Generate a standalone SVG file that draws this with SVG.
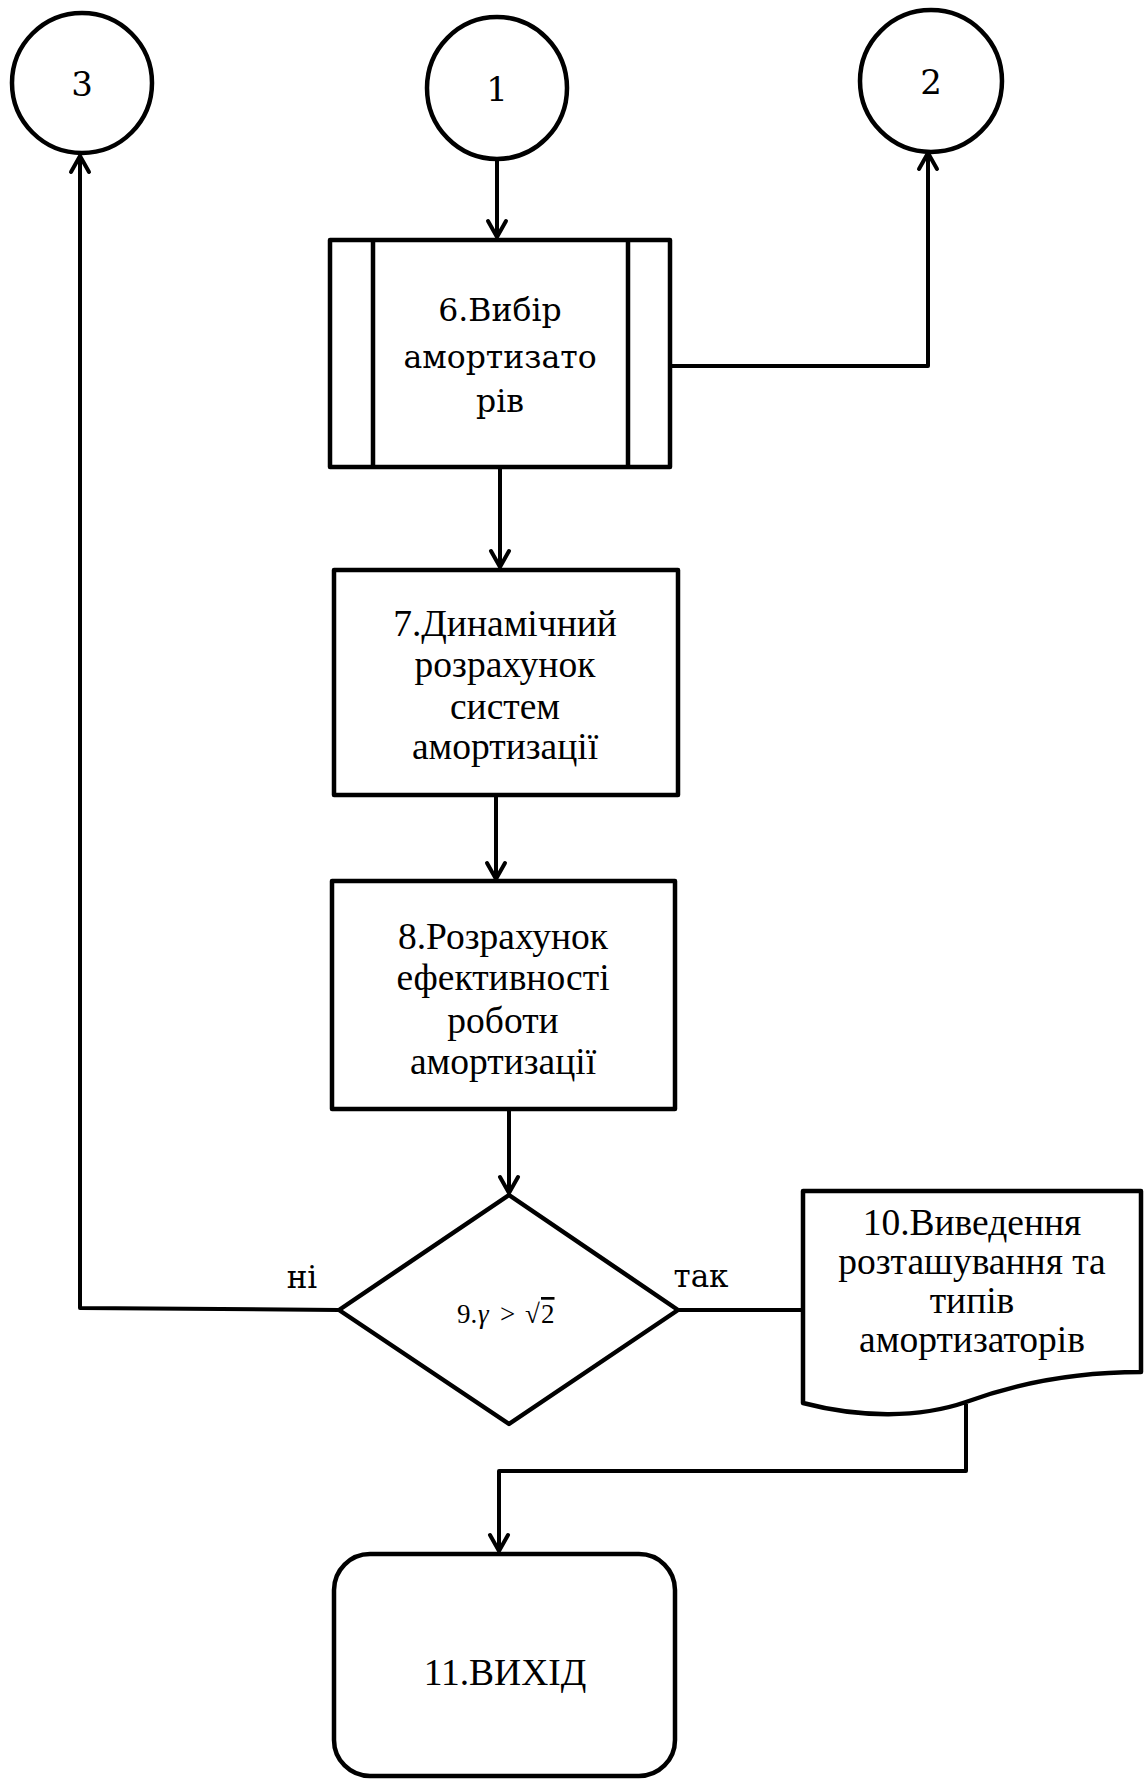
<svg xmlns="http://www.w3.org/2000/svg" width="1147" height="1780" viewBox="0 0 1147 1780">
<style>
.shape{fill:#fff;stroke:#000;stroke-width:4.5;stroke-linejoin:round}
.conn{fill:none;stroke:#000;stroke-width:4;stroke-linejoin:round}
.cam{font-family:"DejaVu Serif","Liberation Serif",serif;fill:#000;text-anchor:middle}
.tnr{font-family:"Liberation Serif","Times New Roman",serif;fill:#000;text-anchor:middle;font-size:37.5px}
</style>
<defs>
<marker id="arr" markerUnits="userSpaceOnUse" markerWidth="24" markerHeight="24" viewBox="-20 -12 24 24" refX="0" refY="0" orient="auto">
<path d="M-16,-9 L0,0 L-16,9" fill="none" stroke="#000" stroke-width="4" stroke-linecap="round" stroke-linejoin="round"/>
</marker>
</defs>
<rect width="1147" height="1780" fill="#fff"/>
<g id="connectors">
<path class="conn" d="M339,1310 L80,1308 L80,156" marker-end="url(#arr)"/>
<path class="conn" d="M497,159 L497,237" marker-end="url(#arr)"/>
<path class="conn" d="M670,366 L928,366 L928,153" marker-end="url(#arr)"/>
<path class="conn" d="M500,467 L500,567" marker-end="url(#arr)"/>
<path class="conn" d="M496,795 L496,879" marker-end="url(#arr)"/>
<path class="conn" d="M509,1109 L509,1193" marker-end="url(#arr)"/>
<path class="conn" d="M678,1310 L803,1310"/>
<path class="conn" d="M966,1404 L966,1471 L499,1471 L499,1551" marker-end="url(#arr)"/>
</g>
<g id="node-c3">
<ellipse class="shape" cx="82" cy="83" rx="70" ry="70"/>
<text class="cam" x="82" y="96" font-size="34">3</text>
</g>
<g id="node-c1">
<ellipse class="shape" cx="497" cy="88" rx="70" ry="71"/>
<text class="cam" x="497" y="101" font-size="34">1</text>
</g>
<g id="node-c2">
<ellipse class="shape" cx="931" cy="81" rx="71" ry="71"/>
<text class="cam" x="931" y="94" font-size="34">2</text>
</g>
<g id="node-6">
<rect class="shape" x="330" y="240" width="340" height="227"/>
<line class="shape" x1="373" y1="240" x2="373" y2="467"/>
<line class="shape" x1="628" y1="240" x2="628" y2="467"/>
<text class="cam" x="500" y="321" font-size="31.5">6.Вибір</text>
<text class="cam" x="500" y="368" font-size="31.5">амортизато</text>
<text class="cam" x="500" y="412" font-size="31.5">рів</text>
</g>
<g id="node-7">
<rect class="shape" x="334" y="570" width="344" height="225"/>
<text class="tnr" x="505" y="636">7.Динамічний</text>
<text class="tnr" x="505" y="677">розрахунок</text>
<text class="tnr" x="505" y="719">систем</text>
<text class="tnr" x="505" y="759">амортизації</text>
</g>
<g id="node-8">
<rect class="shape" x="332" y="881" width="343" height="228"/>
<text class="tnr" x="503" y="949">8.Розрахунок</text>
<text class="tnr" x="503" y="990">ефективності</text>
<text class="tnr" x="503" y="1033">роботи</text>
<text class="tnr" x="503" y="1074">амортизації</text>
</g>
<g id="node-9">
<polygon class="shape" points="509,1195 678,1310 509,1424 339,1310"/>
<text font-family="Liberation Serif, serif" font-size="27" y="1323"><tspan x="457">9.</tspan><tspan x="478" font-style="italic">γ</tspan><tspan x="500">&gt;</tspan><tspan x="525">√</tspan><tspan x="541" text-decoration="overline">2</tspan></text>
</g>
<g id="label-no">
<text class="cam" x="302" y="1288" font-size="31">ні</text>
</g>
<g id="label-yes">
<text class="cam" x="701" y="1287" font-size="31">так</text>
</g>
<g id="node-10">
<path class="shape" d="M803,1191 H1141 V1372 C1070,1372 1015,1384 966,1402 C920,1418 860,1418 803,1403 Z"/>
<text class="tnr" x="972" y="1235">10.Виведення</text>
<text class="tnr" x="972" y="1274">розташування та</text>
<text class="tnr" x="972" y="1313">типів</text>
<text class="tnr" x="972" y="1352">амортизаторів</text>
</g>
<g id="node-11">
<rect class="shape" x="334" y="1554" width="341" height="222" rx="36" ry="36"/>
<text class="tnr" x="505" y="1685" font-size="39.5">11.ВИХІД</text>
</g>
</svg>
